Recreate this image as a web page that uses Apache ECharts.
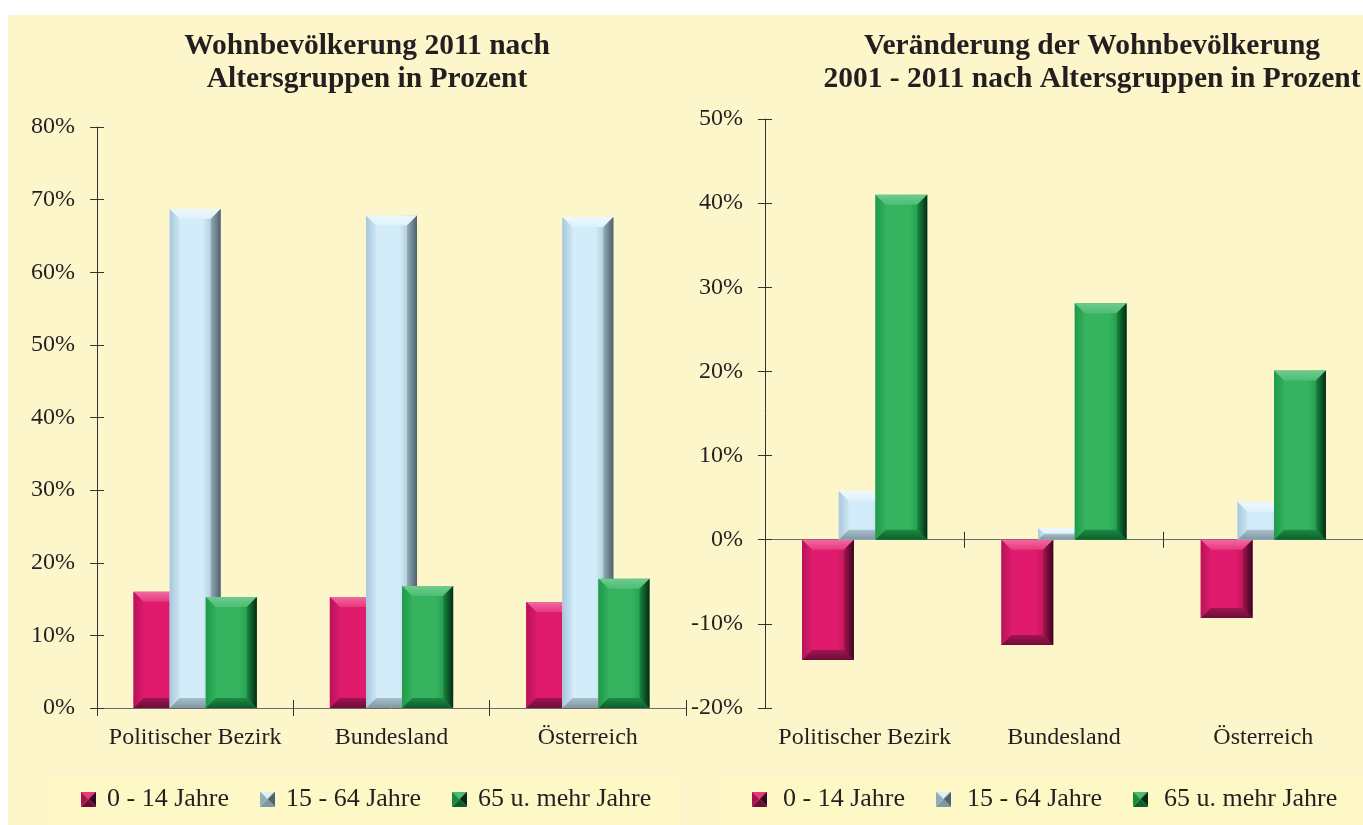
<!DOCTYPE html>
<html>
<head>
<meta charset="utf-8">
<script src="https://cdn.jsdelivr.net/npm/echarts@6/dist/echarts.min.js"></script>
<style>
  html, body { margin: 0; padding: 0; background: #fff; }
  #chart { width: 1363px; height: 825px; }
</style>
</head>
<body>
<div id="chart"></div>
<script>
// categories and age groups
var categories = ['Politischer Bezirk', 'Bundesland', 'Österreich'];
var ageGroups = ['0 - 14 Jahre', '15 - 64 Jahre', '65 u. mehr Jahre'];

// Wohnbevölkerung 2011, share in %
var share0to14 = [16.0, 15.3, 14.6];
var share15to64 = [68.7, 67.8, 67.6];
var share65plus = [15.3, 16.8, 17.8];

// Veränderung 2001 - 2011 in %
var change0to14 = [-14.3, -12.5, -9.3];
var change15to64 = [5.8, 1.4, 4.5];
var change65plus = [41.0, 28.1, 20.1];

// axis ranges (tick labels every 10%)
var shareRange = [0, 80];
var changeRange = [-20, 50];
var tickStep = 10;

var FONT = 'Liberation Serif, Times New Roman, serif';
var TEXT = '#231f20';

var palettes = [
  { face: '#E01B6E', top: ['#F06A9F', '#E8387F'], left: ['#B8125A', '#DA1A6B'], right: ['#A8134F', '#3a0520'], bottom: ['#A01550', '#6E0C38'] },
  { face: '#D2ECF9', top: ['#EEF8FD', '#DDF1FB'], left: ['#A8C8DB', '#CBE6F5'], right: ['#93ACBA', '#4E616C'], bottom: ['#A9BFCB', '#7F96A3'] },
  { face: '#36B35F', top: ['#6FCB8E', '#4DBD72'], left: ['#1E9A4A', '#32B05C'], right: ['#178A40', '#062A14'], bottom: ['#1C8A44', '#0C5E2B'] }
];

function pts(values) {
  return values.map(function (v, i) { return [i, v]; });
}

function lin(horizontal, c0, c1) {
  return { type: 'linear', x: 0, y: 0, x2: horizontal ? 1 : 0, y2: horizontal ? 0 : 1,
    colorStops: [{ offset: 0, color: c0 }, { offset: 1, color: c1 }] };
}

// small pyramid-style legend marker drawn on a canvas
function markerIcon(pal) {
  var c = document.createElement('canvas');
  c.width = 15; c.height = 15;
  var g = c.getContext('2d');
  var tri = function (a, b, col) {
    g.beginPath(); g.moveTo(a[0], a[1]); g.lineTo(b[0], b[1]); g.lineTo(7.5, 7.5); g.closePath();
    g.fillStyle = col; g.fill();
  };
  tri([0, 0], [15, 0], pal.top[1]);
  tri([15, 15], [0, 15], pal.bottom[1]);
  tri([0, 15], [0, 0], pal.right[0]);
  tri([15, 0], [15, 15], pal.right[1]);
  return 'image://' + c.toDataURL();
}

function bevelRenderer(pal, slot) {
  return function (params, api) {
    var cat = api.value(0), val = api.value(1);
    var p0 = api.coord([cat, 0]);
    var p1 = api.coord([cat, val]);
    var catW = api.size([1, 0])[0];
    var w = catW * 0.26, step = catW * 0.184;
    var cx = p0[0] + (slot - 1) * step;
    var x0 = cx - w / 2, x1 = cx + w / 2;
    var y0 = Math.min(p0[1], p1[1]), y1 = Math.max(p0[1], p1[1]);
    var b = Math.min(10, (y1 - y0) / 2, w / 2);
    return {
      type: 'group',
      children: [
        { type: 'rect', shape: { x: x0, y: y0, width: w, height: y1 - y0 },
          style: { fill: {
            type: 'linear', x: 0, y: 0, x2: 1, y2: 0,
            colorStops: [{ offset: 0, color: pal.face }, { offset: 0.65, color: pal.face }, { offset: 1, color: pal.right[0] }]
          } } },
        { type: 'polygon', shape: { points: [[x0, y0], [x1, y0], [x1 - b, y0 + b], [x0 + b, y0 + b]] },
          style: { fill: lin(false, pal.top[0], pal.top[1]) } },
        { type: 'polygon', shape: { points: [[x0, y0], [x0 + b, y0 + b], [x0 + b, y1 - b], [x0, y1]] },
          style: { fill: lin(true, pal.left[0], pal.left[1]) } },
        { type: 'polygon', shape: { points: [[x0, y1], [x1, y1], [x1 - b, y1 - b], [x0 + b, y1 - b]] },
          style: { fill: lin(false, pal.bottom[0], pal.bottom[1]) } },
        { type: 'polygon', shape: { points: [[x1, y0], [x1 - b, y0 + b], [x1 - b, y1 - b], [x1, y1]] },
          style: { fill: lin(true, pal.right[0], pal.right[1]) } }
      ]
    };
  };
}

function barSeries(name, values, slot, xIdx, yIdx) {
  return {
    type: 'custom',
    name: name,
    xAxisIndex: xIdx,
    yAxisIndex: yIdx,
    itemStyle: { color: palettes[slot].face },
    encode: { x: 0, y: 1 },
    renderItem: bevelRenderer(palettes[slot], slot),
    data: pts(values)
  };
}

var labelStyle = { fontFamily: FONT, fontSize: 24, color: TEXT };
var tickLine = { color: '#333' };

function catAxis(grid, opts) {
  return Object.assign({
    type: 'category', gridIndex: grid, data: categories, position: 'bottom',
    axisLine: { show: true, onZero: false, lineStyle: { color: '#6b6b6b', width: 1 } },
    axisTick: { show: true, length: 8, lineStyle: tickLine },
    axisLabel: { show: false },
    splitLine: { show: false }
  }, opts);
}

function valAxis(grid, range, opts) {
  return Object.assign({
    type: 'value', gridIndex: grid, min: range[0], max: range[1], interval: tickStep, position: 'left',
    axisLine: { show: true, lineStyle: { color: '#333', width: 1 } },
    axisTick: { show: true, length: 7, lineStyle: tickLine },
    axisLabel: { show: false },
    splitLine: { show: false }
  }, opts);
}

var titleStyle = { fontFamily: FONT, fontWeight: 'bold', fontSize: 29.5, lineHeight: 33, color: TEXT };
var legendText = { fontFamily: FONT, fontSize: 26, color: TEXT };

var legendItems = ageGroups.map(function (n, i) { return { name: n, icon: markerIcon(palettes[i]) }; });

var chart = echarts.init(document.getElementById('chart'));
chart.setOption({
  animation: false,
  backgroundColor: '#fff',
  graphic: [
    { type: 'rect', shape: { x: 8, y: 15, width: 1355, height: 810 }, style: { fill: '#FDF6CB' }, z: -10 },
    { type: 'rect', shape: { x: 50, y: 775, width: 630, height: 50 }, style: { fill: '#FEF8C6' }, z: -9 },
    { type: 'rect', shape: { x: 720, y: 777, width: 643, height: 48 }, style: { fill: '#FEF8C6' }, z: -9 }
  ],
  title: [
    { text: 'Wohnbevölkerung 2011 nach\nAltersgruppen in Prozent', left: 362, top: 25, textAlign: 'center', textStyle: titleStyle },
    { text: 'Veränderung der Wohnbevölkerung\n2001 - 2011 nach Altersgruppen in Prozent', left: 1087, top: 25, textAlign: 'center', textStyle: titleStyle }
  ],
  legend: [
    { data: legendItems, left: 81, top: 786, padding: 0, itemWidth: 15, itemHeight: 15, itemGap: 31,
      textStyle: Object.assign({ padding: [0, 0, 0, 6] }, legendText), selectedMode: false },
    { data: legendItems, left: 752, top: 786, padding: 0, width: 640, itemWidth: 15, itemHeight: 15, itemGap: 31,
      textStyle: Object.assign({ padding: [0, 0, 0, 11] }, legendText), selectedMode: false }
  ],
  grid: [
    { left: 97, right: 677, top: 127, bottom: 117 },
    { left: 765, right: 0, top: 119, bottom: 117 }
  ],
  xAxis: [
    catAxis(0, { axisLabel: { show: true, interval: 0, margin: 18, textStyle: labelStyle } }),
    catAxis(0, { axisLine: { show: false }, axisTick: { show: true, inside: true, length: 8, lineStyle: tickLine } }),
    catAxis(1, { axisLine: { show: true, onZero: true, lineStyle: { color: '#6b6b6b' } } }),
    catAxis(1, { axisLine: { show: true, onZero: true, lineStyle: { color: '#6b6b6b' } }, axisTick: { show: true, inside: true, length: 8, lineStyle: tickLine } }),
    catAxis(1, { axisLine: { show: false }, axisTick: { show: false }, axisLabel: { show: true, interval: 0, margin: 18, textStyle: labelStyle } })
  ],
  yAxis: [
    valAxis(0, shareRange, { axisLabel: { show: true, formatter: '{value}%', margin: 22, textStyle: labelStyle } }),
    valAxis(0, shareRange, { axisLine: { show: false }, axisTick: { show: true, inside: true, length: 7, lineStyle: tickLine } }),
    valAxis(1, changeRange, { axisLabel: { show: true, formatter: '{value}%', margin: 22, textStyle: labelStyle } }),
    valAxis(1, changeRange, { axisLine: { show: false }, axisTick: { show: true, inside: true, length: 7, lineStyle: tickLine } })
  ],
  series: [
    barSeries(ageGroups[0], share0to14, 0, 0, 0),
    barSeries(ageGroups[1], share15to64, 1, 0, 0),
    barSeries(ageGroups[2], share65plus, 2, 0, 0),
    barSeries(ageGroups[0], change0to14, 0, 2, 2),
    barSeries(ageGroups[1], change15to64, 1, 2, 2),
    barSeries(ageGroups[2], change65plus, 2, 2, 2)
  ]
});
</script>
</body>
</html>
